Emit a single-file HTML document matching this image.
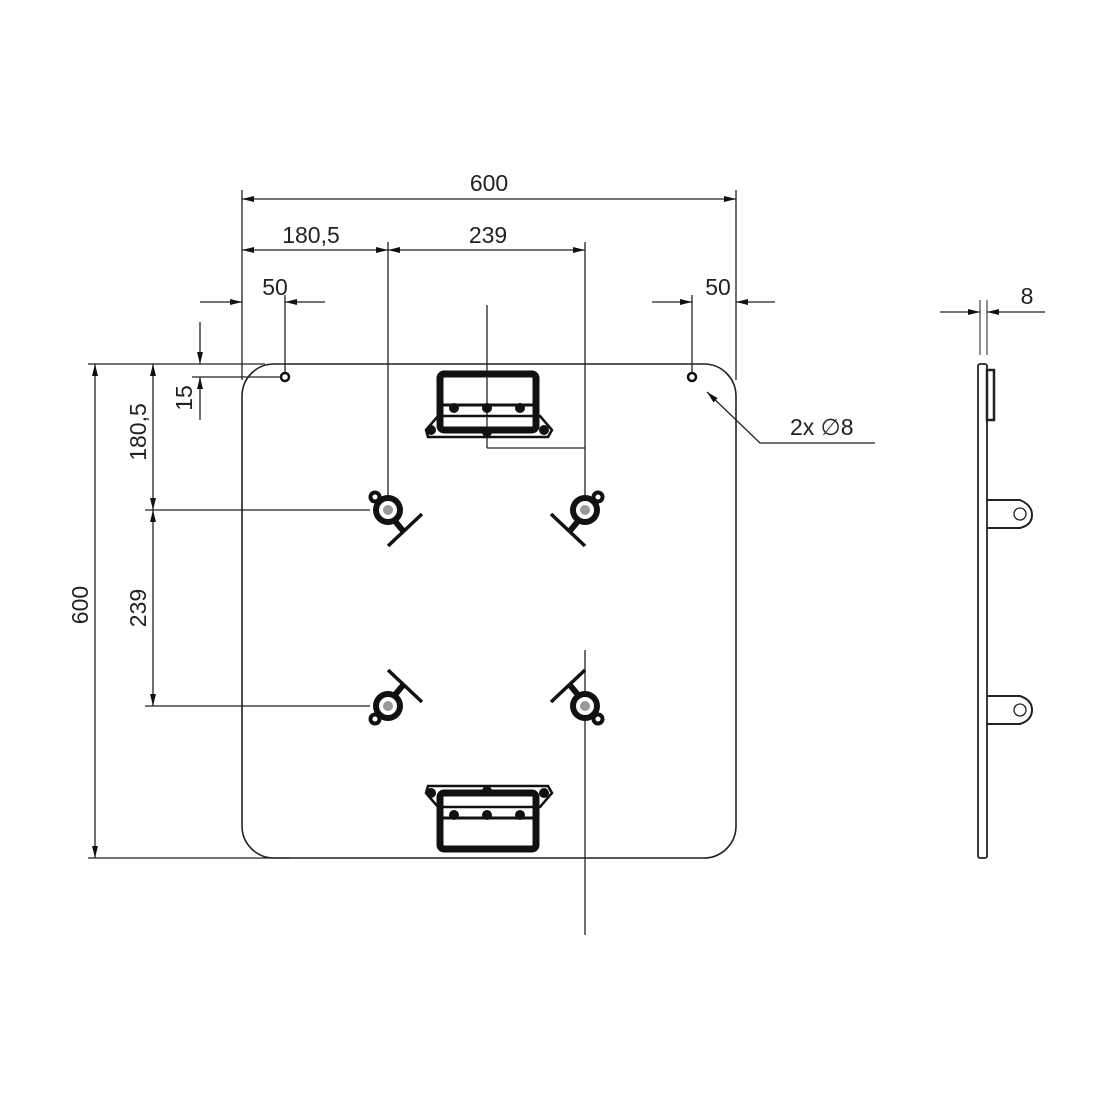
<!DOCTYPE html>
<html><head><style>body{margin:0;background:#fff}svg{display:block}text{font-family:"Liberation Sans",sans-serif;font-size:23px;fill:#222}</style></head><body>
<svg width="1100" height="1100" viewBox="0 0 1100 1100" xmlns="http://www.w3.org/2000/svg">
<defs>
<marker id="a" viewBox="0 0 12 6" refX="12" refY="3" markerWidth="12" markerHeight="6" orient="auto-start-reverse" markerUnits="userSpaceOnUse"><path d="M0,0L12,3L0,6z" fill="#111"/></marker>
<g id="cp">
<line x1="-12" y1="-12" x2="0" y2="0" stroke="#111" stroke-width="10"/>
<circle r="15" fill="#111"/><circle r="9" fill="#fff"/><circle r="5" fill="#999"/>
<circle cx="-13" cy="-13" r="6.5" fill="#111"/><circle cx="-13" cy="-13" r="2.5" fill="#fff"/>
<line x1="6" y1="10" x2="16" y2="22" stroke="#111" stroke-width="6"/>
<line x1="0" y1="36" x2="34" y2="4" stroke="#111" stroke-width="3.5"/>
</g>
<g id="hd">
<rect x="440" y="374" width="96" height="56" rx="4" fill="none" stroke="#111" stroke-width="7"/>
<path d="M426,430 L438,416 L540,416 L552,430 L548,437 L428,437z" fill="none" stroke="#111" stroke-width="2.5"/>
<line x1="440" y1="405" x2="536" y2="405" stroke="#111" stroke-width="3"/>
<circle cx="454" cy="408" r="5" fill="#111"/><circle cx="487" cy="408" r="5" fill="#111"/><circle cx="520" cy="408" r="5" fill="#111"/>
<circle cx="431" cy="430" r="5" fill="#111"/><circle cx="487" cy="432" r="5" fill="#111"/><circle cx="544" cy="430" r="5" fill="#111"/>
</g>
</defs>
<g stroke="#222" stroke-width="1.3" fill="none">
<rect x="242" y="364" width="494" height="494" rx="32" stroke-width="1.6"/>
<line x1="242" y1="190" x2="242" y2="380"/><line x1="736" y1="190" x2="736" y2="380"/>
<line x1="388" y1="242" x2="388" y2="500"/>
<line x1="585" y1="242" x2="585" y2="505"/><line x1="585" y1="650" x2="585" y2="935"/>
<line x1="487" y1="305" x2="487" y2="448"/><line x1="487" y1="448" x2="585" y2="448"/>
<line x1="285" y1="295" x2="285" y2="372"/><line x1="692" y1="295" x2="692" y2="372"/>
<line x1="88" y1="364" x2="265" y2="364"/><line x1="88" y1="858" x2="290" y2="858"/>
<line x1="145" y1="510" x2="370" y2="510"/><line x1="145" y1="706" x2="370" y2="706"/>
<line x1="192" y1="377" x2="280" y2="377"/>
<line x1="242" y1="199" x2="736" y2="199" marker-start="url(#a)" marker-end="url(#a)"/>
<line x1="242" y1="250" x2="388" y2="250" marker-start="url(#a)" marker-end="url(#a)"/>
<line x1="388" y1="250" x2="585" y2="250" marker-start="url(#a)" marker-end="url(#a)"/>
<line x1="200" y1="302" x2="242" y2="302" marker-end="url(#a)"/><line x1="325" y1="302" x2="285" y2="302" marker-end="url(#a)"/>
<line x1="652" y1="302" x2="692" y2="302" marker-end="url(#a)"/><line x1="775" y1="302" x2="736" y2="302" marker-end="url(#a)"/>
<line x1="200" y1="322" x2="200" y2="364" marker-end="url(#a)"/><line x1="200" y1="420" x2="200" y2="377" marker-end="url(#a)"/>
<line x1="153" y1="364" x2="153" y2="510" marker-start="url(#a)" marker-end="url(#a)"/>
<line x1="153" y1="510" x2="153" y2="706" marker-start="url(#a)" marker-end="url(#a)"/>
<line x1="95" y1="364" x2="95" y2="858" marker-start="url(#a)" marker-end="url(#a)"/>
<polyline points="707,392 760,443 875,443" marker-start="url(#a)"/>
<line x1="980" y1="300" x2="980" y2="355" stroke-width="1"/><line x1="987" y1="300" x2="987" y2="355" stroke-width="1"/>
<line x1="940" y1="312" x2="980" y2="312" marker-end="url(#a)"/><line x1="1045" y1="312" x2="987" y2="312" marker-end="url(#a)"/>
<rect x="978" y="364" width="9" height="494" rx="2" stroke-width="1.8"/>
<rect x="987" y="370" width="7" height="50" stroke-width="2.5"/>
<path d="M987,500 L1020,500 Q1032,505 1032,515 Q1032,525 1020,528 L987,528" stroke-width="2"/>
<circle cx="1020" cy="514" r="6"/>
<path d="M987,696 L1020,696 Q1032,700 1032,710 Q1032,720 1020,724 L987,724" stroke-width="2"/>
<circle cx="1020" cy="710" r="6"/>
</g>
<circle cx="285" cy="377" r="4" fill="#fff" stroke="#111" stroke-width="2.5"/>
<circle cx="692" cy="377" r="4" fill="#fff" stroke="#111" stroke-width="2.5"/>
<use href="#hd"/>
<use href="#hd" transform="translate(0,1223) scale(1,-1)"/>
<use href="#cp" transform="translate(388,510)"/>
<use href="#cp" transform="translate(585,510) scale(-1,1)"/>
<use href="#cp" transform="translate(388,706) scale(1,-1)"/>
<use href="#cp" transform="translate(585,706) scale(-1,-1)"/>
<text x="489" y="191" text-anchor="middle">600</text>
<text x="311" y="243" text-anchor="middle">180,5</text>
<text x="488" y="243" text-anchor="middle">239</text>
<text x="275" y="295" text-anchor="middle">50</text>
<text x="718" y="295" text-anchor="middle">50</text>
<text x="1027" y="304" text-anchor="middle">8</text>
<text x="790" y="435">2x ∅8</text>
<text transform="translate(192,398) rotate(-90)" text-anchor="middle">15</text>
<text transform="translate(146,432) rotate(-90)" text-anchor="middle">180,5</text>
<text transform="translate(146,608) rotate(-90)" text-anchor="middle">239</text>
<text transform="translate(88,605) rotate(-90)" text-anchor="middle">600</text>
</svg>
</body></html>
